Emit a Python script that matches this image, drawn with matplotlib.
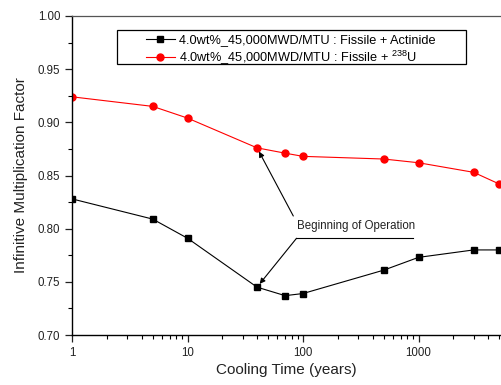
import numpy as np
import matplotlib.pyplot as plt
from matplotlib.lines import Line2D
from matplotlib.patches import Rectangle
from matplotlib.ticker import FixedLocator, NullFormatter

plt.rcParams['font.family'] = ['Liberation Sans', 'DejaVu Sans']
plt.rcParams['mathtext.fontset'] = 'custom'
plt.rcParams['mathtext.rm'] = 'Liberation Sans'
plt.rcParams['mathtext.it'] = 'Liberation Sans:italic'

# cooling time (years)
years = [1, 5, 10, 40, 70, 100, 500, 1000, 3000, 5000]
# k-inf, fissile + actinide
kActinide = [0.828, 0.809, 0.791, 0.745, 0.737, 0.739, 0.761, 0.773, 0.780, 0.780]
# k-inf, fissile + U-238
kU238 = [0.924, 0.915, 0.904, 0.876, 0.871, 0.868, 0.8655, 0.862, 0.853, 0.842]

labelActinide = "4.0wt%_45,000MWD/MTU : Fissile + Actinide"
labelU238 = r"4.0wt%_45,000MWD/MTU : Fissile + $\mathrm{^{238}}$U"
annText = "Beginning of Operation"

W, H = 501, 385
fig = plt.figure(figsize=(W / 100, H / 100), dpi=100)
ax = fig.add_axes([72 / W, 1 - 335 / H, 1 - 72 / W, (335 - 16) / H])

ax.plot(years, kActinide, 'k-', marker='s', markersize=4, linewidth=0.8, label=labelActinide)
ax.plot(years, kU238, 'r-', marker='o', markersize=5, linewidth=0.8, label=labelU238)

ax.set_xscale('log')
ax.set_xlim(1, 10 ** ((W - 72) / 115.5))
ax.set_ylim(0.70, 1.00)
ax.set_xticks([1, 10, 100, 1000])
ax.set_xticklabels(['1', '10', '100', '1000'])
ax.xaxis.set_minor_locator(FixedLocator([m * 10 ** d for d in range(4) for m in range(2, 10)]))
ax.xaxis.set_minor_formatter(NullFormatter())
ax.set_yticks(np.arange(0.70, 1.001, 0.05))
ax.set_yticklabels(['%.2f' % v for v in np.arange(0.70, 1.001, 0.05)])
ax.set_yticks(np.arange(0.725, 1.0, 0.05), minor=True)
ax.tick_params(which='major', direction='out', length=5, width=0.9, labelsize=8.3, colors='#222222')
ax.tick_params(which='minor', direction='out', length=3, width=0.8)
ax.spines['right'].set_visible(False)
for s in ['left', 'bottom']:
	ax.spines[s].set_linewidth(1.0)
ax.spines['top'].set_linewidth(0.9)
ax.spines['top'].set_color('#555555')

ax.set_xlabel("Cooling Time (years)", fontsize=11, color='#222222', labelpad=3)
ax.set_ylabel("Infinitive Multiplication Factor", fontsize=11, color='#222222', labelpad=7)

# legend without frame, box drawn separately
leg = ax.legend(loc='upper left', bbox_to_anchor=(143 / W, 1 - 32 / H),
	bbox_transform=fig.transFigure, borderaxespad=0, fontsize=9.2,
	frameon=False, handlelength=2.3, handletextpad=0.3,
	borderpad=0.2, labelspacing=0.15)
fig.add_artist(Rectangle((117 / W, 1 - 64 / H), (466 - 117) / W, 34 / H,
	transform=fig.transFigure, fill=False, edgecolor='k', linewidth=0.9, zorder=5))

# annotation with underline
fig.text(297 / W, 1 - 226 / H, annText, fontsize=8.3, va='center', ha='left', color='#222222')
fig.add_artist(Line2D([296 / W, 413 / W], [1 - 238.3 / H, 1 - 238.3 / H], color='k', linewidth=0.8))
arrowStyle = dict(arrowstyle='-|>', color='k', lw=0.8, mutation_scale=8, shrinkA=0, shrinkB=3)
ax.annotate('', xy=(years[3], kU238[3]), xycoords='data',
	xytext=(293.3, H - 216), textcoords='figure pixels', arrowprops=arrowStyle)
ax.annotate('', xy=(years[3], kActinide[3]), xycoords='data',
	xytext=(296.5, H - 238.3), textcoords='figure pixels', arrowprops=arrowStyle)

fig.savefig('out.png', dpi=100)
